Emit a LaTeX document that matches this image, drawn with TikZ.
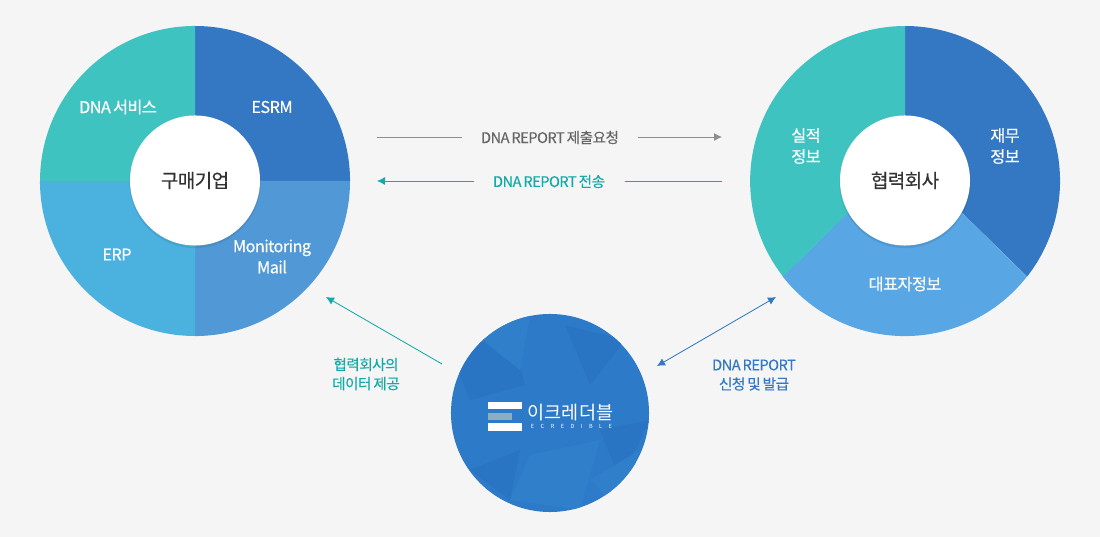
\documentclass[tikz,border=0pt]{standalone}
\usepackage{xcolor}
\usepackage{fontspec}
\usepackage{tikz}
\usetikzlibrary{arrows.meta}
\setmainfont{Noto Sans CJK KR}[LetterSpace=-3.5, WordSpace=0.7, FakeBold=0.25]
\newfontfamily\logofont{Noto Sans CJK KR}
\definecolor{pageback}{HTML}{F5F5F5}
\definecolor{pieteal}{HTML}{3FC3C1}
\definecolor{pieblue}{HTML}{3478C4}
\definecolor{piemid}{HTML}{5199D6}
\definecolor{piesky}{HTML}{4BB2E0}
\definecolor{pielight}{HTML}{58A6E4}
\definecolor{ecblue}{HTML}{2C7AC8}
\definecolor{ecdark}{HTML}{2975C4}
\definecolor{eclight}{HTML}{2F7FCB}
\definecolor{linegray}{HTML}{8E8E8E}
\definecolor{textgray}{HTML}{666666}
\definecolor{lineteal}{HTML}{12ABA8}
\definecolor{lineblue}{HTML}{3478C4}
\definecolor{hubtext}{HTML}{333333}
\tikzset{
  hub/.style={circle, fill=white, minimum size=3.25cm, inner sep=0pt, text=hubtext, font=\fontsize{13.6}{16}\selectfont},
  hubshade/.style={black, opacity=0.08},
  pielabel/.style={text=white, align=center, font=\fontsize{11.6}{15}\selectfont},
  arrowlabel/.style={align=center, font=\fontsize{10.4}{13.6}\selectfont},
  tip/.style={-{Latex[length=0.2cm,width=0.2cm]}},
  bothtip/.style={{Latex[length=0.2cm,width=0.2cm]}-{Latex[length=0.2cm,width=0.2cm]}},
}
\begin{document}
\begin{tikzpicture}[x=0.025cm, y=-0.025cm]
            \useasboundingbox (0, 0) rectangle (1100, 537);
            \fill[pageback] (0, 0) rectangle (1100, 537);

            % left pie
            \fill[pieblue] (195, 181) -- (195, 26) arc[start angle=90, end angle=0, radius=3.875cm] -- cycle;
            \fill[piemid] (195, 181) -- (350, 181) arc[start angle=0, end angle=-90, radius=3.875cm] -- cycle;
            \fill[piesky] (195, 181) -- (195, 336) arc[start angle=-90, end angle=-180, radius=3.875cm] -- cycle;
            \fill[pieteal] (195, 181) -- (40, 181) arc[start angle=180, end angle=90, radius=3.875cm] -- cycle;
            \fill[hubshade] (195, 182.5) circle (1.64cm);
            \node[hub] (buyer) at (195, 180.5) {구매기업};
            \node[pielabel] (dnaservice) at (118, 107) {DNA 서비스};
            \node[pielabel] (esrm) at (272, 107) {ESRM};
            \node[pielabel] (erp) at (117, 254.5) {ERP};
            \node[pielabel] (monitoring) at (272, 256.5) {Monitoring\\Mail};

            % right pie
            \fill[pieblue] (905, 157) -- (905, 26) arc[start angle=90, end angle=-38, radius=3.875cm] -- cycle;
            \fill[pielight] (905, 157) -- (1027, 276.5) arc[start angle=-38, end angle=-142, radius=3.875cm] -- cycle;
            \fill[pieteal] (905, 157) -- (783, 276.5) arc[start angle=218, end angle=90, radius=3.875cm] -- cycle;
            \fill[hubshade] (905, 182.5) circle (1.64cm);
            \node[hub] (partner) at (905, 180.5) {협력회사};
            \node[pielabel] (finance) at (1005, 146) {재무\\정보};
            \node[pielabel] (record) at (806, 146) {실적\\정보};
            \node[pielabel] (ceo) at (905, 284) {대표자정보};

            % bottom circle
            \begin{scope}
                \clip (550, 413) circle (2.475cm);
                \fill[ecblue] (440, 300) rectangle (660, 520);
                \fill[ecdark] (450, 350) -- (510, 330) -- (525, 385) -- (470, 400) -- cycle;
                \fill[eclight] (470, 330) -- (530, 316) -- (520, 370) -- cycle;
                \fill[ecdark] (565, 325) -- (625, 340) -- (590, 385) -- cycle;
                \fill[eclight] (530, 455) -- (600, 440) -- (580, 510) -- (510, 500) -- cycle;
                \fill[ecdark] (470, 470) -- (520, 450) -- (510, 500) -- cycle;
                \fill[ecdark] (600, 430) -- (650, 420) -- (620, 480) -- cycle;
                \fill[eclight] (590, 480) -- (640, 450) -- (620, 510) -- cycle;
            \end{scope}
            \node[circle, minimum size=4.95cm, inner sep=0pt] (ecredible) at (550, 413) {};
            \fill[white] (487.5, 402) rectangle (522, 409.5);
            \fill[white] (487.5, 423.5) rectangle (522, 431);
            \fill[color={rgb,255:red,140;green,174;blue,192}] (487.5, 413) rectangle (512, 420);
            \node[text=white, font=\logofont\fontsize{13.2}{15}\selectfont, inner sep=0pt] (logoname) at (570.5, 412.5) {이크레더블};
            \node[text=white, font=\logofont\fontsize{4}{4}\selectfont, inner sep=0pt] (logosub) at (571.5, 426.5) {E\hskip4.6pt C\hskip4.6pt R\hskip4.6pt E\hskip4.6pt D\hskip4.6pt I\hskip4.6pt B\hskip4.6pt L\hskip4.6pt E};

            % arrow ends
            \coordinate (reqa) at (377, 137);
            \coordinate (reqb) at (462, 137);
            \coordinate (reqc) at (638, 137);
            \coordinate (reqd) at (722, 137);
            \coordinate (senda) at (722, 181);
            \coordinate (sendb) at (625, 181);
            \coordinate (sendc) at (474, 181);
            \coordinate (sendd) at (377, 181);
            \coordinate (dataa) at (442, 364);
            \coordinate (datab) at (326, 297);
            \coordinate (issuea) at (657, 366);
            \coordinate (issueb) at (776, 297);

            \node[arrowlabel, text=textgray] (reqlabel) at (550, 137.5) {DNA REPORT 제출요청};
            \node[arrowlabel, text=lineteal] (sendlabel) at (549, 181.5) {DNA REPORT 전송};
            \node[arrowlabel, text=lineteal] (datalabel) at (366, 374) {협력회사의\\데이터 제공};
            \node[arrowlabel, text=lineblue] (issuelabel) at (754, 375) {DNA REPORT\\신청 및 발급};

            \draw[linegray, semithick] (reqa) -- (reqb); % request left
            \draw[linegray, semithick, tip] (reqc) -- (reqd); % request right
            \draw[lineteal, semithick] (senda) -- (sendb); % send right
            \draw[lineteal, semithick, tip] (sendc) -- (sendd); % send left
            \draw[lineteal, semithick, tip] (dataa) -- (datab); % data
            \draw[lineblue, semithick, bothtip] (issuea) -- (issueb); % issue
        \end{tikzpicture}
\end{document}
